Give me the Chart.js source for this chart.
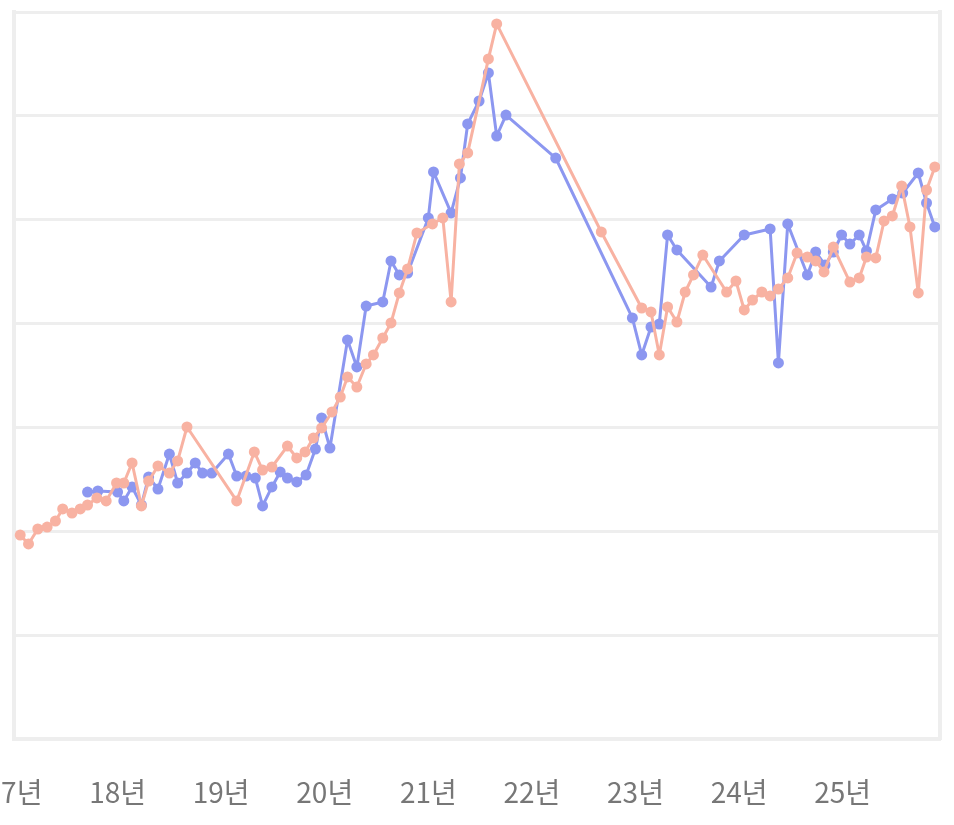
<!DOCTYPE html>
<html>
<head>
<meta charset="utf-8">
<script src="https://cdn.jsdelivr.net/npm/chart.js@4"></script>
<style>
  html, body { margin: 0; padding: 0; background: #ffffff; }
  #wrap { position: relative; width: 954px; height: 825px; overflow: hidden; }
</style>
</head>
<body>
<div id="wrap"><canvas id="c"></canvas></div>
<script>
// Series A (salmon): dates as decimal years, values in chart units
const salmonDates = [2017.06,2017.14,2017.23,2017.32,2017.40,2017.47,2017.56,2017.64,2017.71,2017.80,2017.89,2017.99,
  2018.06,2018.14,2018.23,2018.30,2018.39,2018.50,2018.58,2018.67,
  2019.15,2019.32,2019.40,2019.49,2019.64,2019.73,2019.81,2019.89,2019.97,
  2020.07,2020.15,2020.22,2020.31,2020.40,2020.47,2020.56,2020.64,2020.72,2020.80,2020.89,
  2021.04,2021.14,2021.22,2021.30,2021.38,2021.58,2021.66,
  2022.67,
  2023.06,2023.15,2023.23,2023.31,2023.40,2023.48,2023.56,2023.65,2023.88,2023.97,
  2024.05,2024.13,2024.22,2024.30,2024.38,2024.47,2024.56,2024.66,2024.74,2024.82,2024.91,
  2025.07,2025.16,2025.23,2025.32,2025.40,2025.48,2025.57,2025.65,2025.73,2025.81,2025.89];
const salmonValues = [19.64,18.78,20.22,20.41,20.99,22.15,21.76,22.15,22.53,23.21,22.92,24.65,
  24.65,26.58,22.44,24.84,26.29,25.61,26.77,30.04,
  22.92,27.64,25.90,26.19,28.21,27.06,27.64,28.98,29.95,
  31.49,32.93,34.86,33.89,36.11,36.98,38.61,40.06,42.95,45.26,48.72,
  49.59,50.17,42.08,55.37,56.43,65.48,68.85,
  48.82,
  41.50,41.12,36.98,41.60,40.15,43.04,44.68,46.60,43.04,44.10,
  41.31,42.27,43.04,42.66,43.33,44.39,46.80,46.41,46.03,44.97,47.37,
  44.00,44.39,46.41,46.32,49.88,50.36,53.25,49.30,42.95,52.86,55.08];

// Series B (blue)
const blueDates = [2017.71,2017.81,
  2018.00,2018.06,2018.14,2018.23,2018.30,2018.39,2018.50,2018.58,2018.67,2018.75,2018.82,2018.91,
  2019.07,2019.15,2019.24,2019.33,2019.40,2019.49,2019.57,2019.64,2019.73,2019.82,2019.91,2019.97,
  2020.05,2020.22,2020.31,2020.40,2020.56,2020.64,2020.72,2020.80,
  2021.00,2021.05,2021.22,2021.31,2021.38,2021.49,2021.58,2021.66,2021.75,
  2022.23,2022.97,
  2023.06,2023.15,2023.23,2023.31,2023.40,2023.73,2023.81,
  2024.05,2024.30,2024.38,2024.47,2024.66,2024.74,2024.83,2024.91,2024.99,
  2025.07,2025.16,2025.23,2025.32,2025.48,2025.58,2025.73,2025.81,2025.89];
const blueValues = [23.78,23.88,
  23.78,22.92,24.27,22.53,25.23,24.07,27.44,24.65,25.61,26.58,25.61,25.61,
  27.44,25.32,25.32,25.13,22.44,24.27,25.71,25.13,24.75,25.42,27.92,30.91,
  28.02,38.42,35.82,41.69,42.08,46.03,44.68,44.87,
  50.17,54.60,50.65,54.02,59.22,61.43,64.13,58.06,60.08,
  55.94,40.54,
  36.98,39.67,39.96,48.53,47.09,43.52,46.03,
  48.53,49.11,36.21,49.59,44.68,46.89,45.64,46.89,48.53,
  47.66,48.53,46.99,50.94,52.00,52.57,54.50,51.61,49.30];

const xMin = 2017, xMax = 2025.94;
const yMin = 0, yMax = 70, yStep = 10;

const salmon = '#f8b2a2';
const blue = '#8c97f0';
const gridColor = '#eeeeee';

const toPoints = (xs, ys) => xs.map((x, i) => ({ x: x, y: ys[i] }));

const noPadH = s => { s.paddingLeft = 0; s.paddingRight = 0; s.height = 70; };
const noPadV = s => { s.paddingTop = 0; s.paddingBottom = 0; s.width = 0; };

const lineStyle = color => ({
  borderColor: color, backgroundColor: color,
  pointBackgroundColor: color, pointBorderColor: color,
  borderWidth: 3, pointRadius: 5.5, pointBorderWidth: 0,
  borderJoinStyle: 'round', borderCapStyle: 'round',
  tension: 0, fill: false
});

new Chart(document.getElementById('c'), {
  type: 'line',
  data: {
    datasets: [
      Object.assign({ label: 'A', data: toPoints(salmonDates, salmonValues) }, lineStyle(salmon)),
      Object.assign({ label: 'B', data: toPoints(blueDates, blueValues) }, lineStyle(blue))
    ]
  },
  options: {
    responsive: true,
    maintainAspectRatio: false,
    animation: false,
    layout: { autoPadding: false, padding: { left: 14, right: 14, top: 12, bottom: 16 } },
    plugins: { legend: { display: false }, tooltip: { enabled: false } },
    scales: {
      x: {
        type: 'linear', min: xMin, max: xMax,
        afterFit: noPadH,
        grid: { display: false, drawTicks: false },
        border: { display: true, color: gridColor, width: 4 },
        ticks: {
          stepSize: 1, includeBounds: false, autoSkip: false, maxRotation: 0,
          padding: 37, color: '#777777',
          font: { family: '"Noto Sans CJK KR", "Noto Sans", sans-serif', size: 28 },
          callback: v => (Math.round(v) - 2000) + '년'
        }
      },
      y: {
        min: yMin, max: yMax,
        afterFit: noPadV,
        ticks: { display: false, stepSize: yStep },
        grid: { color: gridColor, lineWidth: 3, drawTicks: false },
        border: { display: true, color: gridColor, width: 4 }
      },
      y2: {
        position: 'right', min: 0, max: 1,
        afterFit: noPadV,
        ticks: { display: false },
        grid: { display: false, drawTicks: false },
        border: { display: true, color: gridColor, width: 4 }
      }
    }
  }
});
</script>
</body>
</html>
